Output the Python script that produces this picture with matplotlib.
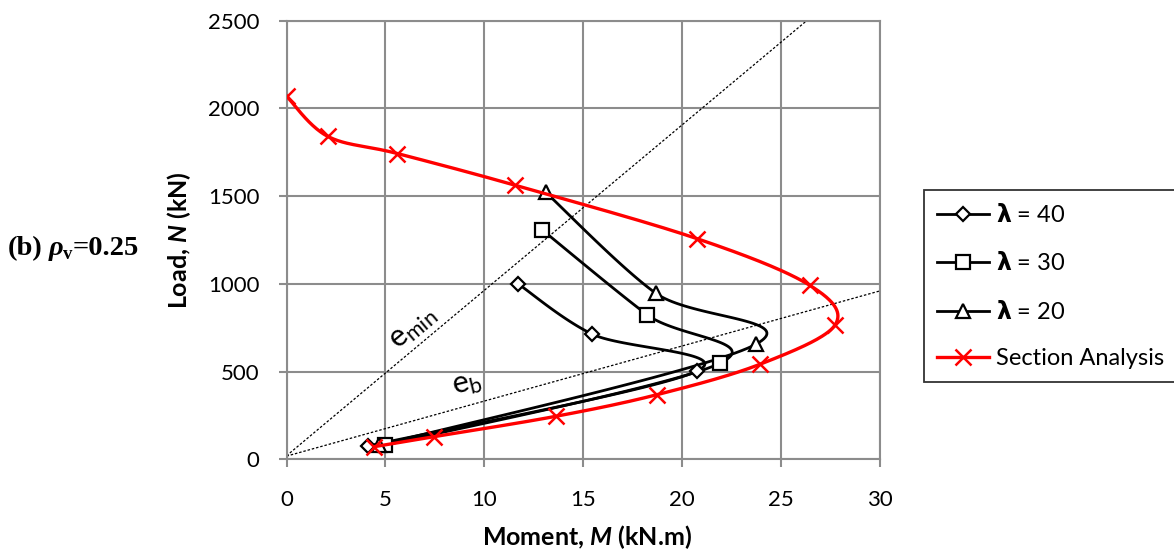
import numpy as np
import matplotlib
matplotlib.use('Agg')
import matplotlib.pyplot as plt
from matplotlib.lines import Line2D

plt.rcParams['font.family'] = ['Lato', 'DejaVu Sans']
plt.rcParams['mathtext.fontset'] = 'custom'
plt.rcParams['mathtext.rm'] = 'Lato'
plt.rcParams['mathtext.it'] = 'Lato:italic:bold'
plt.rcParams['mathtext.bf'] = 'DejaVu Sans:bold'

# section analysis interaction curve
M_sec = [0, 2.08, 5.6, 11.56, 20.77, 26.46, 27.73, 23.94, 18.75, 13.61, 7.46, 4.44]
N_sec = [2070, 1841, 1743, 1562, 1257, 991, 766, 542, 369, 245, 129, 72]

# load paths for each slenderness
M_l40 = [11.72, 15.46, 20.77, 4.14]
N_l40 = [999, 713, 504, 76]
M_l30 = [12.93, 18.24, 21.92, 4.98]
N_l30 = [1307, 823, 548, 80]
M_l20 = [13.1, 18.66, 23.73, 4.7]
N_l20 = [1522, 947, 656, 80]

# eccentricity lines
M_emin = [0, 26.4]
N_emin = [20, 2510]
M_eb = [0, 30]
N_eb = [18, 960]

W, H = 1174, 553
fig = plt.figure(figsize=(W / 100, H / 100), dpi=100)
ax = fig.add_axes([286.5 / W, 1 - 459.3 / H, 593.5 / W, 438.6 / H])
ax.set_xlim(0, 30)
ax.set_ylim(0, 2500)


def smooth(xs, ys, n=40):
    # bezier smoothing done in screen space, like a spreadsheet smoothed line
    pts = ax.transData.transform(np.column_stack([xs, ys]))
    p = np.vstack([pts[0], pts, pts[-1]])
    t = np.linspace(0, 1, n)[:, None]
    segs = []
    for i in range(1, len(p) - 2):
        p0, p1, p2, p3 = p[i - 1], p[i], p[i + 1], p[i + 2]
        c1 = p1 + (p2 - p0) / 6
        c2 = p2 - (p3 - p1) / 6
        segs.append((1 - t) ** 3 * p1 + 3 * (1 - t) ** 2 * t * c1
                    + 3 * (1 - t) * t ** 2 * c2 + t ** 3 * p2)
    curve = ax.transData.inverted().transform(np.vstack(segs))
    return curve[:, 0], curve[:, 1]


grid_c = '#8c8c8c'
ax.set_xticks(np.arange(0, 31, 5))
ax.set_yticks(np.arange(0, 2501, 500))
ax.grid(True, color=grid_c, lw=1.5)
ax.set_axisbelow(True)
for s in ax.spines.values():
    s.set_color(grid_c)
    s.set_linewidth(1.5)
ax.tick_params(direction='out', length=6, width=1.5, color=grid_c,
               labelsize=16)
ax.tick_params(axis='y', pad=13.5)
ax.tick_params(axis='x', pad=16)

ax.plot(M_emin, N_emin, color='k', lw=0.9, dashes=(2, 1.5))
ax.plot(M_eb, N_eb, color='k', lw=0.9, dashes=(2, 1.5))

series = [
    (M_l40, N_l40, 'D', 7, r'$\mathbf{\lambda}$ = 40'),
    (M_l30, N_l30, 's', 10, r'$\mathbf{\lambda}$ = 30'),
    (M_l20, N_l20, '^', 10, r'$\mathbf{\lambda}$ = 20'),
]
handles = []
for mx, ny, mk, ms, lab in series:
    sx, sy = smooth(mx, ny)
    ax.plot(sx, sy, color='k', lw=2, zorder=3)
    ax.plot(mx, ny, ls='none', marker=mk, ms=ms, mfc='white', mec='k',
            mew=1.6, zorder=4)
    handles.append(Line2D([], [], color='k', lw=2, marker=mk, ms=ms,
                          mfc='white', mec='k', mew=1.6, label=lab))

sx, sy = smooth(M_sec, N_sec)
ax.plot(sx, sy, color='#ff0000', lw=2.4, zorder=5)
ax.plot(M_sec, N_sec, ls='none', marker='x', ms=11, mec='#ff0000', mew=1.8,
        zorder=6)
handles.append(Line2D([], [], color='#ff0000', lw=2.4, marker='x', ms=11,
                      mec='#ff0000', mew=1.8, label='Section Analysis'))

ax.text(6.4, 750, r'$\mathrm{e_{min}}$', fontsize=22, rotation=40,
        ha='center', va='center')
ax.text(9.1, 430, r'$\mathrm{e_b}$', fontsize=22, rotation=14,
        ha='center', va='center')

ax.set_xlabel(r'Moment, $M$ (kN.m)', fontsize=18, fontweight='bold')
ax.set_ylabel(r'Load, $N$ (kN)', fontsize=18, fontweight='bold')
ax.xaxis.set_label_coords(0.506, -0.145)
ax.yaxis.set_label_coords(-0.1575, 0.5)

leg = fig.legend(handles=handles, loc='upper left',
                 bbox_to_anchor=(924 / W, 1 - 190 / H), fontsize=17,
                 frameon=True, fancybox=False, edgecolor='k',
                 borderaxespad=0, handlelength=2.2, handletextpad=0.3,
                 labelspacing=1.08, borderpad=0.55, numpoints=1)
leg.get_frame().set_linewidth(1.3)


def put_pieces(x_px, base_px, pieces):
    r = fig.canvas.get_renderer()
    x = x_px
    for s, kw, dy, gap in pieces:
        t = fig.text(x / W, 1 - (base_px + dy) / H, s, ha='left',
                     va='baseline', family='Liberation Serif', **kw)
        x = t.get_window_extent(r).x1 + gap


put_pieces(8, 255, [
    ('(b)', dict(fontsize=20.5, fontweight='bold'), 0, 6),
    ('ρ', dict(fontsize=20.5, fontweight='bold', style='italic'), 0, 0),
    ('v', dict(fontsize=13.5, fontweight='bold'), 4, 0),
    ('=0.25', dict(fontsize=20.5, fontweight='bold'), 0, 0),
])

fig.savefig('out.png', dpi=100)
